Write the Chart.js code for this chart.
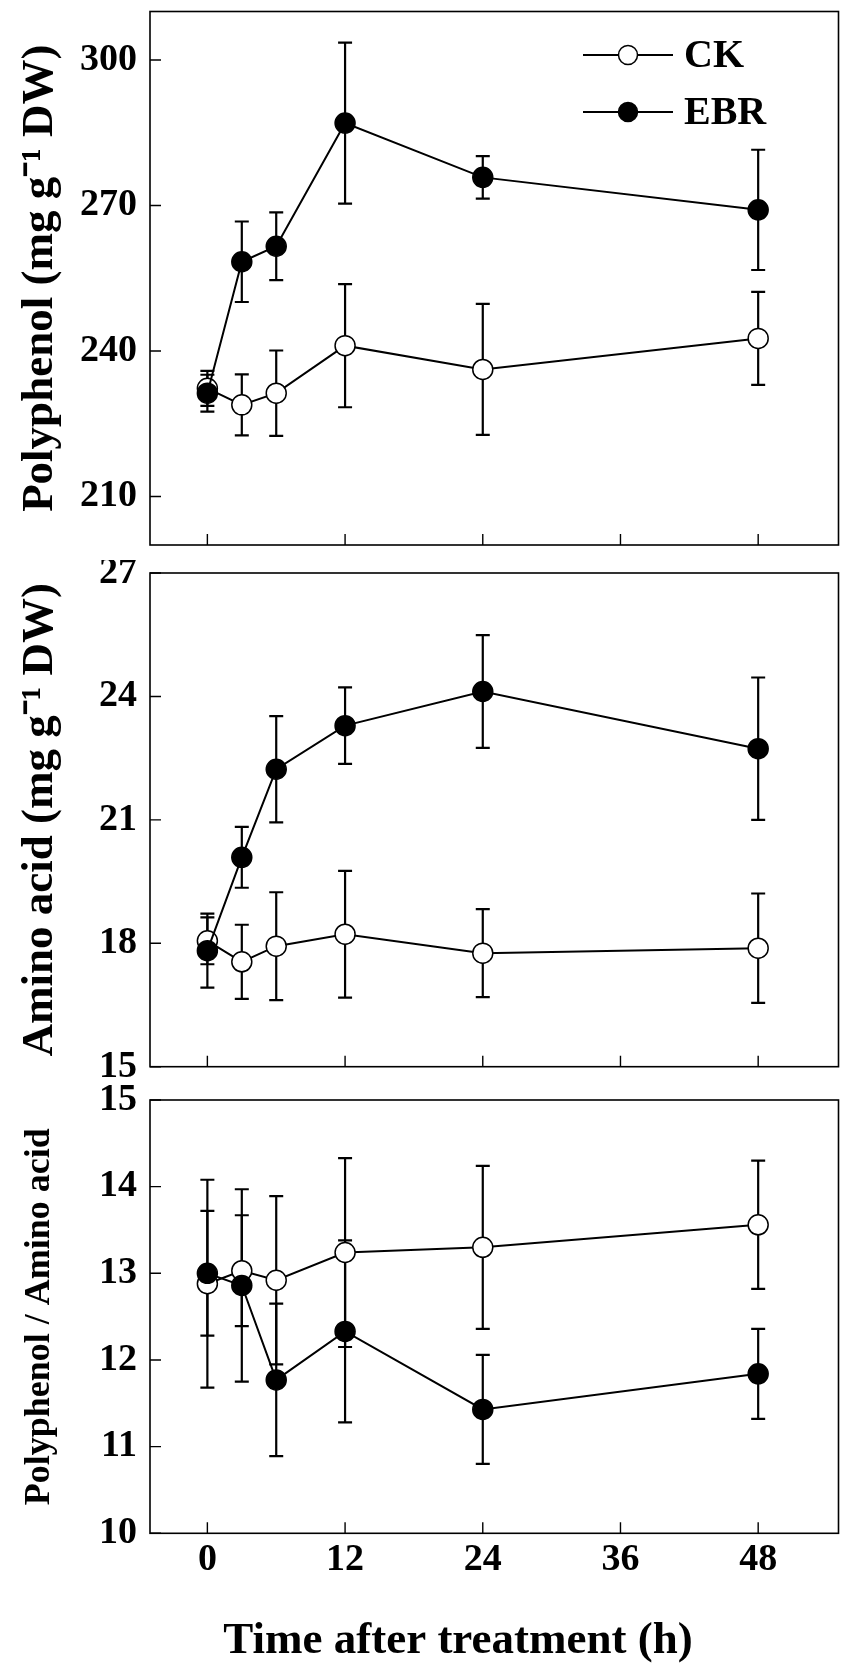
<!DOCTYPE html>
<html><head><meta charset="utf-8">
<script src="https://cdn.jsdelivr.net/npm/chart.js@4.4.1/dist/chart.umd.min.js"></script>
<style>
html,body{margin:0;padding:0;background:#fff;}
#wrap{position:relative;width:850px;height:1669px;background:#fff;}
.c{position:absolute;left:0;width:850px;}
</style></head><body>
<div id="wrap">
<div class="c" style="top:0;height:560px"><canvas id="c1"></canvas></div>
<div class="c" style="top:560px;height:520px"><canvas id="c2"></canvas></div>
<div class="c" style="top:1080px;height:589px"><canvas id="c3"></canvas></div>
</div>
<script>
// ---------- data ----------
const times = [0, 3, 6, 12, 24, 48];
const xTicks = [0, 12, 24, 36, 48];
const seriesNames = ['CK', 'EBR'];

const polyCK     = [232.3, 228.9, 231.3, 241.1, 236.2, 242.6];
const polyCKErr  = [3.6, 6.3, 8.8, 12.7, 13.5, 9.6];
const polyEBR    = [231.3, 258.4, 261.6, 287.0, 275.8, 269.1];
const polyEBRErr = [3.8, 8.3, 7.0, 16.6, 4.4, 12.4];
const polyTicks  = [210, 240, 270, 300];

const aminoCK     = [18.06, 17.55, 17.93, 18.22, 17.76, 17.88];
const aminoCKErr  = [0.57, 0.90, 1.31, 1.54, 1.07, 1.33];
const aminoEBR    = [17.82, 20.09, 22.23, 23.29, 24.12, 22.73];
const aminoEBRErr = [0.90, 0.74, 1.29, 0.93, 1.37, 1.73];
const aminoTicks  = [15, 18, 21, 24, 27];

const ratioCK     = [12.88, 13.03, 12.92, 13.24, 13.30, 13.56];
const ratioCKErr  = [1.20, 0.64, 0.97, 1.09, 0.94, 0.74];
const ratioEBR    = [13.00, 12.86, 11.77, 12.33, 11.43, 11.84];
const ratioEBRErr = [0.72, 1.11, 0.88, 1.05, 0.63, 0.52];
const ratioTicks  = [10, 11, 12, 13, 14, 15];

const xTitle = 'Time after treatment (h)';
// ---------- styling ----------
const FONT = 'Liberation Serif';
const BLACK = '#000';

const boxPlugin = {
  id: 'box',
  beforeDatasetsDraw(chart) {
    const {ctx, chartArea: a, scales} = chart;
    ctx.save();
    ctx.strokeStyle = BLACK;
    ctx.lineWidth = 1.6;
    ctx.strokeRect(a.left, a.top, a.right - a.left, a.bottom - a.top);
    ctx.lineWidth = 1.4;
    ctx.beginPath();
    (chart.options.yTickValues || []).forEach(v => {
      const py = scales.y.getPixelForValue(v);
      ctx.moveTo(a.left, py); ctx.lineTo(a.left + 11, py);
    });
    xTicks.forEach(v => {
      const px = scales.x.getPixelForValue(v);
      ctx.moveTo(px, a.bottom); ctx.lineTo(px, a.bottom - 11);
    });
    ctx.stroke();
    // error bars
    ctx.lineWidth = 2.2;
    chart.data.datasets.forEach(ds => {
      const errs = ds.errors || [];
      ds.data.forEach((p, i) => {
        const e = errs[i];
        if (e == null) return;
        const px = scales.x.getPixelForValue(p.x);
        const y1 = scales.y.getPixelForValue(p.y + e);
        const y2 = scales.y.getPixelForValue(p.y - e);
        ctx.beginPath();
        ctx.moveTo(px, y1); ctx.lineTo(px, y2);
        ctx.moveTo(px - 7, y1); ctx.lineTo(px + 7, y1);
        ctx.moveTo(px - 7, y2); ctx.lineTo(px + 7, y2);
        ctx.stroke();
      });
    });
    ctx.restore();
  }
};

const legendPlugin = {
  id: 'customLegend',
  afterDraw(chart) {
    if (!chart.options.showCustomLegend) return;
    const {ctx} = chart;
    const ys = [55, 112];
    const fills = ['#fff', '#000'];
    ctx.save();
    seriesNames.forEach((name, i) => {
      const y = ys[i];
      ctx.strokeStyle = BLACK; ctx.lineWidth = 2;
      ctx.beginPath(); ctx.moveTo(583, y); ctx.lineTo(673, y); ctx.stroke();
      ctx.beginPath(); ctx.arc(628, y, 9.5, 0, Math.PI * 2);
      ctx.fillStyle = fills[i]; ctx.fill(); ctx.lineWidth = 1.5; ctx.stroke();
      ctx.fillStyle = BLACK;
      ctx.font = 'bold 40px "' + FONT + '"';
      ctx.textAlign = 'left'; ctx.textBaseline = 'middle';
      ctx.fillText(name, 684, y + 2);
    });
    ctx.restore();
  }
};

const xTitlePlugin = {
  id: 'xTitle',
  afterDraw(chart) {
    if (!chart.options.showXTitle) return;
    const {ctx} = chart;
    ctx.save();
    ctx.fillStyle = BLACK;
    ctx.font = 'bold 45px "' + FONT + '"';
    ctx.textAlign = 'center'; ctx.textBaseline = 'middle';
    ctx.fillText(xTitle, 458, 561);
    ctx.restore();
  }
};

function makeDatasets(ck, ckErr, ebr, ebrErr) {
  const common = {borderColor: BLACK, borderWidth: 2, pointRadius: 10, pointHoverRadius: 10,
    pointBorderColor: BLACK, pointBorderWidth: 1.5, tension: 0, fill: false, showLine: true};
  return [
    Object.assign({label: seriesNames[1], data: times.map((t, i) => ({x: t, y: ebr[i]})),
      errors: ebrErr, pointBackgroundColor: BLACK, backgroundColor: BLACK, order: 0}, common),
    Object.assign({label: seriesNames[0], data: times.map((t, i) => ({x: t, y: ck[i]})),
      errors: ckErr, pointBackgroundColor: '#fff', backgroundColor: '#fff', order: 1}, common)
  ];
}

function makeChart(id, cfg) {
  const showX = !!cfg.showX;
  return new Chart(document.getElementById(id), {
    type: 'line',
    data: {datasets: makeDatasets(cfg.ck, cfg.ckErr, cfg.ebr, cfg.ebrErr)},
    options: {
      responsive: true, maintainAspectRatio: false, animation: false,
      yTickValues: cfg.ticks, showCustomLegend: cfg.legend, showXTitle: showX,
      layout: {padding: cfg.padding},
      plugins: {legend: {display: false}, tooltip: {enabled: false}},
      scales: {
        x: {
          type: 'linear', min: -5, max: 55, display: showX,
          afterBuildTicks: s => { s.ticks = xTicks.map(v => ({value: v})); },
          afterFit: s => { if (showX) s.height = cfg.xHeight; s.paddingLeft = 0; s.paddingRight = 0; },
          grid: {display: false, drawTicks: false}, border: {display: false},
          ticks: {color: BLACK, autoSkip: false, maxRotation: 0, padding: 4,
            font: {family: FONT, size: 38, weight: 'bold'}}
        },
        y: {
          type: 'linear', min: cfg.min, max: cfg.max,
          afterBuildTicks: s => { s.ticks = cfg.ticks.map(v => ({value: v})); },
          afterFit: s => { s.width = 150; s.paddingTop = 0; s.paddingBottom = 0; },
          grid: {display: false, drawTicks: false}, border: {display: false},
          ticks: {color: BLACK, padding: 13, font: {family: FONT, size: 38, weight: 'bold'}},
          title: {display: true, text: cfg.title, color: BLACK,
            font: {family: FONT, size: cfg.titleSize, weight: 'bold'},
            padding: {top: cfg.titlePad, bottom: 0}}
        }
      }
    },
    plugins: [boxPlugin, legendPlugin, xTitlePlugin]
  });
}

makeChart('c1', {ck: polyCK, ckErr: polyCKErr, ebr: polyEBR, ebrErr: polyEBRErr,
  ticks: polyTicks, min: 200, max: 310, title: 'Polyphenol (mg g\u207B\u00B9 DW)', titleSize: 45, titlePad: 13,
  padding: {left: 0, right: 10, top: 5.4, bottom: 15}, legend: true});
makeChart('c2', {ck: aminoCK, ckErr: aminoCKErr, ebr: aminoEBR, ebrErr: aminoEBRErr,
  ticks: aminoTicks, min: 15, max: 27, title: 'Amino acid (mg g\u207B\u00B9 DW)', titleSize: 45, titlePad: 13,
  padding: {left: 0, right: 10, top: 13, bottom: 13.3}});
makeChart('c3', {ck: ratioCK, ckErr: ratioCKErr, ebr: ratioEBR, ebrErr: ratioEBRErr,
  ticks: ratioTicks, min: 10, max: 15, title: 'Polyphenol / Amino acid', titleSize: 36, titlePad: 18,
  padding: {left: 0, right: 10, top: 20, bottom: 0}, showX: true, xHeight: 135.7});
</script>
</body></html>
